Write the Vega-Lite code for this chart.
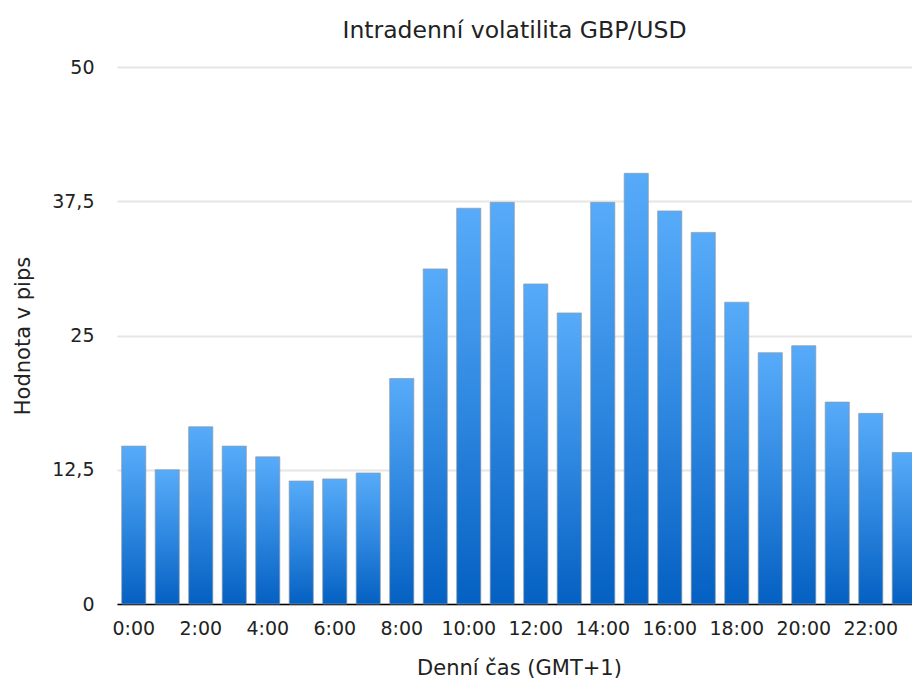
{
  "$schema": "https://vega.github.io/schema/vega-lite/v6.json",
  "autosize": {"type": "none"},
  "padding": {"left": 117, "top": 67, "right": 0, "bottom": 75},
  "width": 795,
  "height": 537,
  "background": "white",
  "title": {
    "text": "Intradenní volatilita GBP/USD",
    "font": "DejaVu Sans",
    "fontSize": 23.5,
    "fontWeight": "normal",
    "color": "#222222",
    "anchor": "middle",
    "offset": 16
  },
  "data": {
    "values": [
      {"cas": "0:00", "pips": 14.7},
      {"cas": "1:00", "pips": 12.5},
      {"cas": "2:00", "pips": 16.5},
      {"cas": "3:00", "pips": 14.7},
      {"cas": "4:00", "pips": 13.7},
      {"cas": "5:00", "pips": 11.45},
      {"cas": "6:00", "pips": 11.65},
      {"cas": "7:00", "pips": 12.2},
      {"cas": "8:00", "pips": 21.0},
      {"cas": "9:00", "pips": 31.2},
      {"cas": "10:00", "pips": 36.85},
      {"cas": "11:00", "pips": 37.4},
      {"cas": "12:00", "pips": 29.8},
      {"cas": "13:00", "pips": 27.1},
      {"cas": "14:00", "pips": 37.4},
      {"cas": "15:00", "pips": 40.1},
      {"cas": "16:00", "pips": 36.6},
      {"cas": "17:00", "pips": 34.6},
      {"cas": "18:00", "pips": 28.1},
      {"cas": "19:00", "pips": 23.4},
      {"cas": "20:00", "pips": 24.05},
      {"cas": "21:00", "pips": 18.8},
      {"cas": "22:00", "pips": 17.75},
      {"cas": "23:00", "pips": 14.1}
    ]
  },
  "mark": {
    "type": "bar",
    "color": {
      "gradient": "linear",
      "x1": 0, "y1": 0, "x2": 0, "y2": 1,
      "stops": [
        {"offset": 0, "color": "#57abf9"},
        {"offset": 0.5, "color": "#2f88e0"},
        {"offset": 1, "color": "#0460c2"}
      ]
    },
    "stroke": "#8c9aa8",
    "strokeWidth": 1,
    "strokeOpacity": 0.7
  },
  "encoding": {
    "x": {
      "field": "cas",
      "type": "ordinal",
      "sort": null,
      "scale": {"range": [0, 804], "paddingInner": 0.28, "paddingOuter": 0.14},
      "axis": {
        "title": "Denní čas (GMT+1)",
        "values": ["0:00", "2:00", "4:00", "6:00", "8:00", "10:00", "12:00", "14:00", "16:00", "18:00", "20:00", "22:00"],
        "labelAngle": 0,
        "labelFont": "DejaVu Sans",
        "labelFontSize": 19,
        "labelColor": "#222222",
        "labelPadding": 15,
        "ticks": false,
        "tickSize": 0,
        "domain": true,
        "domainColor": "#000000",
        "domainWidth": 1.5,
        "grid": false,
        "titleFont": "DejaVu Sans",
        "titleFontSize": 21,
        "titleFontWeight": "normal",
        "titleColor": "#222222",
        "titlePadding": 19
      }
    },
    "y": {
      "field": "pips",
      "type": "quantitative",
      "scale": {"domain": [0, 50], "nice": false},
      "axis": {
        "title": "Hodnota v pips",
        "values": [0, 12.5, 25, 37.5, 50],
        "labelExpr": "replace(toString(datum.value), '.', ',')",
        "labelFont": "DejaVu Sans",
        "labelFontSize": 19,
        "labelColor": "#222222",
        "labelPadding": 23,
        "ticks": false,
        "tickSize": 0,
        "domain": false,
        "grid": true,
        "gridColor": "#e6e6e6",
        "gridWidth": 2,
        "titleFont": "DejaVu Sans",
        "titleFontSize": 21,
        "titleFontWeight": "normal",
        "titleColor": "#222222",
        "titlePadding": 18
      }
    }
  },
  "config": {
    "view": {"stroke": null}
  }
}
